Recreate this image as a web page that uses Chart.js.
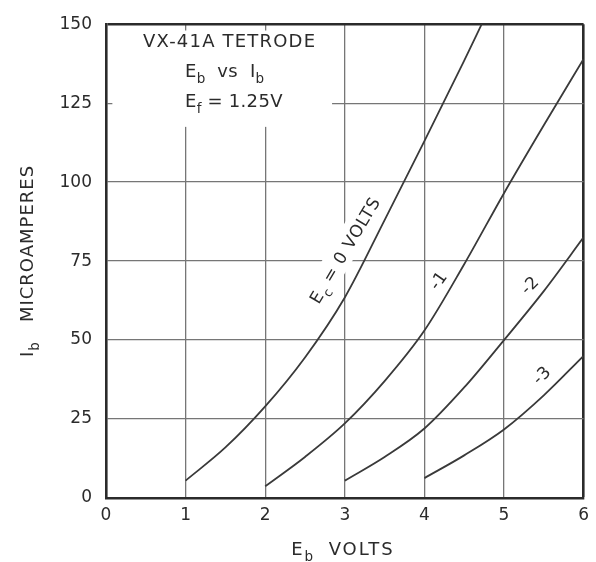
<!DOCTYPE html>
<html>
<head>
<meta charset="utf-8">
<script src="https://cdn.jsdelivr.net/npm/chart.js@4.4.1/dist/chart.umd.min.js"></script>
<style>
  html, body { margin: 0; padding: 0; background: #fff; }
  #wrap { width: 596px; height: 562px; }
</style>
</head>
<body>
<div id="wrap"><canvas id="tubeChart"></canvas></div>
<script>
//axis ticks
const xTicks = [0, 1, 2, 3, 4, 5, 6];
const yTicks = [0, 25, 50, 75, 100, 125, 150];
//curves (Eb volts, Ib microamps)
const ec0X = [1, 1.5, 2, 2.5, 3, 3.5, 4, 4.5, 4.72];
const ec0Y = [5.5, 16, 29, 44.5, 63.5, 88, 113, 138.5, 150];
const ec1X = [2, 2.5, 3, 3.5, 4, 4.5, 5, 5.5, 6];
const ec1Y = [3.7, 13, 23.6, 37, 53, 74, 96.5, 118, 139];
const ec2X = [3, 3.5, 4, 4.5, 5, 5.5, 6];
const ec2Y = [5.5, 13, 22, 35, 50, 65.5, 82.5];
const ec3X = [4, 4.5, 5, 5.5, 6];
const ec3Y = [6.3, 13.5, 21.7, 32.5, 45];

const ink = "#2b2b2b";
const fam = "'DejaVu Sans', sans-serif";

function pts(xs, ys) {
  return xs.map((x, i) => ({ x: x, y: ys[i] }));
}
function curve(xs, ys) {
  return {
    data: pts(xs, ys),
    borderColor: "#3a3a3a",
    borderWidth: 1.8,
    pointRadius: 0,
    fill: false,
    cubicInterpolationMode: "monotone"
  };
}

//text with subscripts, parts = [text, isSub]
function rich(ctx, parts, x, y, size, align, spacing) {
  let w = 0;
  parts.forEach(p => {
    ctx.font = (p[1] ? size * 0.75 : size) + "px " + fam;
    ctx.letterSpacing = (p[1] ? 0 : spacing) + "px";
    w += ctx.measureText(p[0]).width;
  });
  let cx = align === "center" ? x - w / 2 : x;
  parts.forEach(p => {
    ctx.font = (p[1] ? size * 0.75 : size) + "px " + fam;
    ctx.letterSpacing = (p[1] ? 0 : spacing) + "px";
    ctx.fillText(p[0], cx, y + (p[1] ? size * 0.35 : 0));
    cx += ctx.measureText(p[0]).width;
  });
  ctx.letterSpacing = "0px";
  return w;
}

//curve labels in data units
const curveLabels = [
  { parts: [["E", false], ["c", true], [" = 0 VOLTS", false]], x: 3.0, y: 78.5, ang: -59, mask: true },
  { parts: [["-1", false]], x: 4.17, y: 69, ang: -55, mask: false },
  { parts: [["-2", false]], x: 5.32, y: 67.5, ang: -45, mask: false },
  { parts: [["-3", false]], x: 5.47, y: 39, ang: -45, mask: false }
];

const annot = {
  id: "annot",
  beforeDatasetsDraw(chart) {
    const ctx = chart.ctx;
    const sx = chart.scales.x, sy = chart.scales.y;
    ctx.save();
    ctx.fillStyle = "#fff";
    //blank area behind the title block
    const l = sx.getPixelForValue(0.08), r = sx.getPixelForValue(2.84);
    const t = sy.getPixelForValue(148), b = sy.getPixelForValue(117.5);
    ctx.fillRect(l, t, r - l, b - t);
    //blank behind rotated labels
    curveLabels.filter(c => c.mask).forEach(c => {
      ctx.save();
      ctx.translate(sx.getPixelForValue(c.x), sy.getPixelForValue(c.y));
      ctx.rotate(c.ang * Math.PI / 180);
      ctx.fillRect(-68, -14, 136, 26);
      ctx.restore();
    });
    ctx.restore();
  },
  afterDraw(chart) {
    const ctx = chart.ctx;
    const sx = chart.scales.x, sy = chart.scales.y;
    ctx.save();
    ctx.fillStyle = ink;
    ctx.textBaseline = "alphabetic";
    ctx.textAlign = "left";
    //title block
    rich(ctx, [["VX-41A TETRODE", false]], 143, 47, 18, "left", 1.2);
    rich(ctx, [["E", false], ["b", true], ["  vs  ", false], ["I", false], ["b", true]], 185, 77, 18, "left", 0.3);
    rich(ctx, [["E", false], ["f", true], [" = 1.25V", false]], 185, 107, 18, "left", 0.3);
    //x axis title
    rich(ctx, [["E", false], ["b", true], ["  VOLTS", false]], 343, 555, 18, "center", 2);
    //y axis title
    ctx.save();
    ctx.translate(33, 261);
    ctx.rotate(-Math.PI / 2);
    rich(ctx, [["I", false], ["b", true], ["   MICROAMPERES", false]], 0, 0, 18, "center", 1);
    ctx.restore();
    //curve labels
    curveLabels.forEach(c => {
      ctx.save();
      ctx.translate(sx.getPixelForValue(c.x), sy.getPixelForValue(c.y));
      ctx.rotate(c.ang * Math.PI / 180);
      rich(ctx, c.parts, 0, 6, 17, "center", 0.8);
      ctx.restore();
    });
    ctx.restore();
  }
};

const frameW = 2.6;
const gridW = 1.3;

new Chart(document.getElementById("tubeChart").getContext("2d"), {
  type: "line",
  data: {
    datasets: [curve(ec0X, ec0Y), curve(ec1X, ec1Y), curve(ec2X, ec2Y), curve(ec3X, ec3Y)]
  },
  options: {
    responsive: true,
    maintainAspectRatio: false,
    animation: false,
    layout: { padding: { top: 14, right: 12, left: 0, bottom: 0 } },
    plugins: { legend: { display: false }, tooltip: { enabled: false } },
    scales: {
      x: {
        type: "linear",
        min: xTicks[0],
        max: xTicks[xTicks.length - 1],
        afterBuildTicks: s => { s.ticks = xTicks.map(v => ({ value: v })); },
        afterFit: s => { s.height = 64; },
        ticks: { color: ink, font: { family: fam, size: 17 }, padding: 7, maxRotation: 0 },
        grid: {
          drawTicks: false,
          color: c => c.tick && c.tick.value === 6 ? ink : "#767676",
          lineWidth: c => c.tick && c.tick.value === 6 ? frameW : gridW
        },
        border: { display: true, color: ink, width: frameW }
      },
      y: {
        min: yTicks[0],
        max: yTicks[yTicks.length - 1],
        afterBuildTicks: s => { s.ticks = yTicks.map(v => ({ value: v })); },
        afterFit: s => { s.width = 106; },
        ticks: { color: ink, font: { family: fam, size: 17 }, padding: 14 },
        grid: {
          drawTicks: false,
          color: c => c.tick && c.tick.value === 150 ? ink : "#767676",
          lineWidth: c => c.tick && c.tick.value === 150 ? frameW : gridW
        },
        border: { display: true, color: ink, width: frameW }
      }
    }
  },
  plugins: [annot]
});
</script>
</body>
</html>
